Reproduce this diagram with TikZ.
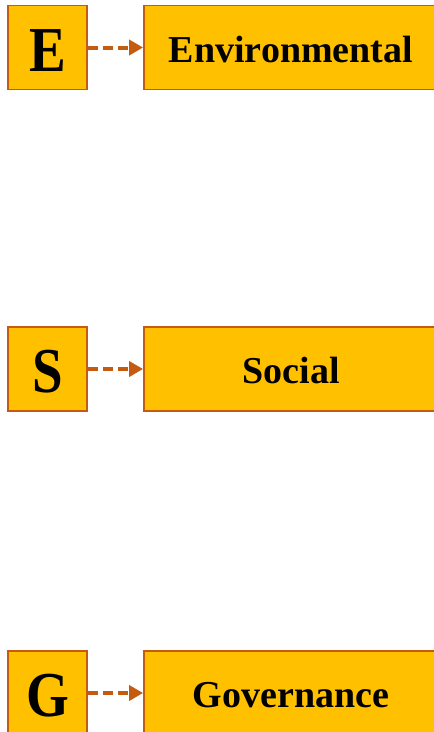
\documentclass[tikz,border=0pt]{standalone}
\usepackage{fontspec}
\setmainfont{Liberation Serif}
\newfontfamily\letterfont[FakeStretch=0.86]{Liberation Serif}
\usetikzlibrary{arrows.meta}
\definecolor{boxfill}{HTML}{FFC000}
\definecolor{boxline}{HTML}{C55A11}
\tikzset{
  letterbox/.style={draw=boxline, fill=boxfill, line width=1.8pt, minimum width=79pt, minimum height=84pt, inner sep=0pt, text height=47pt, text depth=0pt, font=\letterfont\fontsize{64}{64}\selectfont\bfseries},
  labelbox/.style={draw=boxline, fill=boxfill, line width=1.8pt, minimum width=294pt, minimum height=84pt, inner sep=0pt, text height=29pt, text depth=0pt, font=\fontsize{38}{38}\selectfont\bfseries},
  dasharrow/.style={draw=boxline, line width=4pt, dash pattern=on 10pt off 5pt, -{Triangle[length=14pt,width=15pt]}}
}
\begin{document}
\begin{tikzpicture}[x=1pt,y=-1pt]
\useasboundingbox (0,0) rectangle (434,732);
\clip (0,0) rectangle (434,732);
\node[letterbox] (e) at (47.5,47.5) {E};
\node[labelbox] (env) at (291,47.5) {Environmental};
\node[letterbox] (s) at (47.5,369) {S};
\node[labelbox] (soc) at (291,369) {Social};
\node[letterbox] (g) at (47.5,693) {G};
\node[labelbox] (gov) at (291,693) {Governance};
\draw[dasharrow] (e.east) -- (env.west);
\draw[dasharrow] (s.east) -- (soc.west);
\draw[dasharrow] (g.east) -- (gov.west);
\end{tikzpicture}
\end{document}
